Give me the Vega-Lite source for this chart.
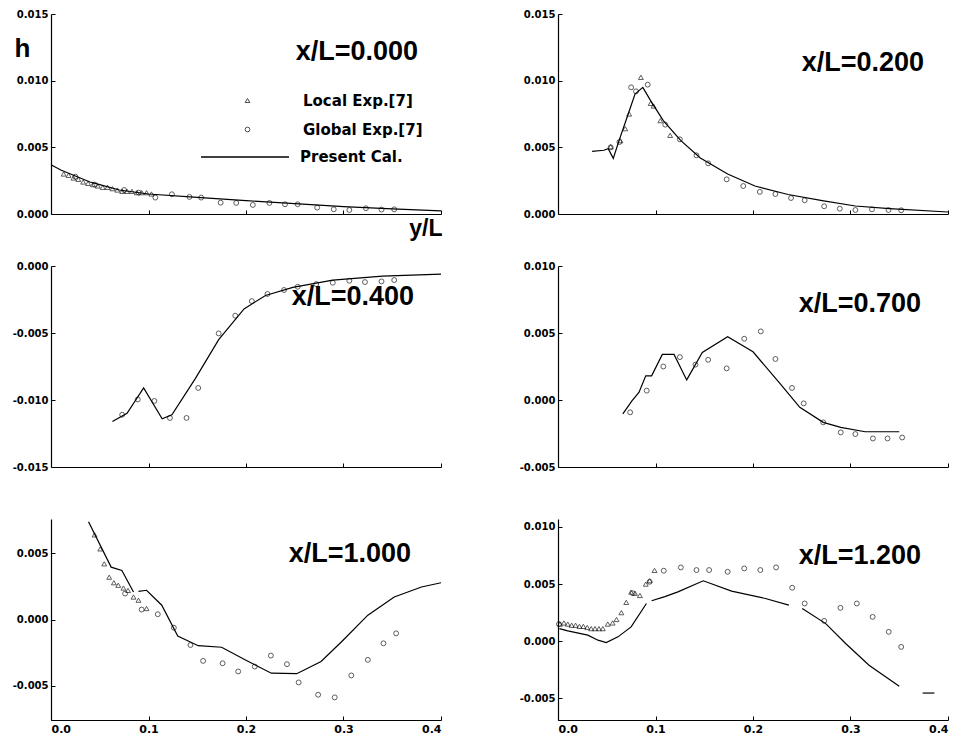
{
  "$schema": "https://vega.github.io/schema/vega-lite/v6.json",
  "padding": {"left": 12, "top": 9, "right": 5, "bottom": 5},
  "background": "white",
  "bounds": "flush",
  "columns": 2,
  "spacing": {"row": 52, "column": 117},
  "resolve": {"scale": {"shape": "independent", "stroke": "independent"}, "legend": {"shape": "independent", "stroke": "independent"}},
  "config": {
    "view": {"stroke": null},
    "axis": {"domainColor": "black", "domainWidth": 1.2, "tickColor": "black", "tickSize": -4, "tickWidth": 1, "labelPadding": 7, "labelFont": "DejaVu Sans", "labelFontWeight": "bold", "labelFontSize": 10, "labelColor": "black", "grid": false},
    "title": {"font": "Liberation Sans", "fontWeight": "bold", "fontSize": 27, "color": "black", "anchor": "end", "frame": "group", "orient": "top", "offset": 0, "baseline": "middle"}
  },
  "datasets": {
    "l0": [
      {"x": 0.0, "h": 0.0037}, {"x": 0.01, "h": 0.0033}, {"x": 0.02, "h": 0.0030}, {"x": 0.03, "h": 0.0027},
      {"x": 0.04, "h": 0.0024}, {"x": 0.05, "h": 0.0022}, {"x": 0.07, "h": 0.0018}, {"x": 0.1, "h": 0.0015},
      {"x": 0.15, "h": 0.00125}, {"x": 0.2, "h": 0.001}, {"x": 0.25, "h": 0.00078}, {"x": 0.3, "h": 0.00056},
      {"x": 0.35, "h": 0.00038}, {"x": 0.4, "h": 0.00024}
    ],
    "e0": [
      {"x": 0.013, "h": 0.0030, "s": "Local Exp.[7]"}, {"x": 0.018, "h": 0.0029, "s": "Local Exp.[7]"}, {"x": 0.023, "h": 0.0027, "s": "Local Exp.[7]"},
      {"x": 0.028, "h": 0.0026, "s": "Local Exp.[7]"}, {"x": 0.033, "h": 0.0024, "s": "Local Exp.[7]"}, {"x": 0.038, "h": 0.0023, "s": "Local Exp.[7]"},
      {"x": 0.043, "h": 0.0022, "s": "Local Exp.[7]"}, {"x": 0.048, "h": 0.0021, "s": "Local Exp.[7]"}, {"x": 0.053, "h": 0.0020, "s": "Local Exp.[7]"},
      {"x": 0.058, "h": 0.0020, "s": "Local Exp.[7]"}, {"x": 0.063, "h": 0.0019, "s": "Local Exp.[7]"}, {"x": 0.068, "h": 0.0018, "s": "Local Exp.[7]"},
      {"x": 0.073, "h": 0.0017, "s": "Local Exp.[7]"}, {"x": 0.078, "h": 0.0017, "s": "Local Exp.[7]"}, {"x": 0.083, "h": 0.0017, "s": "Local Exp.[7]"},
      {"x": 0.088, "h": 0.0016, "s": "Local Exp.[7]"}, {"x": 0.093, "h": 0.0016, "s": "Local Exp.[7]"}, {"x": 0.098, "h": 0.0016, "s": "Local Exp.[7]"},
      {"x": 0.103, "h": 0.0015, "s": "Local Exp.[7]"},
      {"x": 0.025, "h": 0.0028, "s": "Global Exp.[7]"}, {"x": 0.045, "h": 0.0022, "s": "Global Exp.[7]"}, {"x": 0.075, "h": 0.0018, "s": "Global Exp.[7]"},
      {"x": 0.09, "h": 0.0016, "s": "Global Exp.[7]"}, {"x": 0.107, "h": 0.00123, "s": "Global Exp.[7]"}, {"x": 0.124, "h": 0.00148, "s": "Global Exp.[7]"},
      {"x": 0.142, "h": 0.00128, "s": "Global Exp.[7]"}, {"x": 0.154, "h": 0.00123, "s": "Global Exp.[7]"}, {"x": 0.174, "h": 0.00085, "s": "Global Exp.[7]"},
      {"x": 0.19, "h": 0.00083, "s": "Global Exp.[7]"}, {"x": 0.207, "h": 0.00068, "s": "Global Exp.[7]"}, {"x": 0.224, "h": 0.00083, "s": "Global Exp.[7]"},
      {"x": 0.24, "h": 0.00073, "s": "Global Exp.[7]"}, {"x": 0.253, "h": 0.00073, "s": "Global Exp.[7]"}, {"x": 0.273, "h": 0.00048, "s": "Global Exp.[7]"},
      {"x": 0.29, "h": 0.00035, "s": "Global Exp.[7]"}, {"x": 0.306, "h": 0.0003, "s": "Global Exp.[7]"}, {"x": 0.323, "h": 0.00043, "s": "Global Exp.[7]"},
      {"x": 0.339, "h": 0.00033, "s": "Global Exp.[7]"}, {"x": 0.352, "h": 0.00035, "s": "Global Exp.[7]"}
    ],
    "l1": [
      {"x": 0.035, "h": 0.0047}, {"x": 0.047, "h": 0.00478}, {"x": 0.0515, "h": 0.0049}, {"x": 0.0567, "h": 0.00417},
      {"x": 0.0625, "h": 0.00548}, {"x": 0.072, "h": 0.0075}, {"x": 0.079, "h": 0.009}, {"x": 0.087, "h": 0.0095},
      {"x": 0.095, "h": 0.0085}, {"x": 0.108, "h": 0.007}, {"x": 0.126, "h": 0.0055}, {"x": 0.146, "h": 0.0042},
      {"x": 0.174, "h": 0.003}, {"x": 0.202, "h": 0.0021}, {"x": 0.236, "h": 0.00146}, {"x": 0.271, "h": 0.001},
      {"x": 0.305, "h": 0.0006}, {"x": 0.34, "h": 0.0004}, {"x": 0.4, "h": 0.00015}
    ],
    "e1": [
      {"x": 0.054, "h": 0.00505, "s": "Local Exp.[7]"}, {"x": 0.064, "h": 0.0055, "s": "Local Exp.[7]"}, {"x": 0.069, "h": 0.0064, "s": "Local Exp.[7]"},
      {"x": 0.073, "h": 0.0075, "s": "Local Exp.[7]"}, {"x": 0.085, "h": 0.01025, "s": "Local Exp.[7]"}, {"x": 0.095, "h": 0.0083, "s": "Local Exp.[7]"},
      {"x": 0.098, "h": 0.0081, "s": "Local Exp.[7]"}, {"x": 0.105, "h": 0.007, "s": "Local Exp.[7]"}, {"x": 0.115, "h": 0.0059, "s": "Local Exp.[7]"},
      {"x": 0.054, "h": 0.005, "s": "Global Exp.[7]"}, {"x": 0.063, "h": 0.0054, "s": "Global Exp.[7]"}, {"x": 0.075, "h": 0.0095, "s": "Global Exp.[7]"},
      {"x": 0.08, "h": 0.0092, "s": "Global Exp.[7]"}, {"x": 0.092, "h": 0.0097, "s": "Global Exp.[7]"}, {"x": 0.11, "h": 0.0067, "s": "Global Exp.[7]"},
      {"x": 0.125, "h": 0.0056, "s": "Global Exp.[7]"}, {"x": 0.142, "h": 0.0044, "s": "Global Exp.[7]"}, {"x": 0.154, "h": 0.0038, "s": "Global Exp.[7]"},
      {"x": 0.173, "h": 0.0026, "s": "Global Exp.[7]"}, {"x": 0.19, "h": 0.0021, "s": "Global Exp.[7]"}, {"x": 0.207, "h": 0.00166, "s": "Global Exp.[7]"},
      {"x": 0.223, "h": 0.0015, "s": "Global Exp.[7]"}, {"x": 0.239, "h": 0.0012, "s": "Global Exp.[7]"}, {"x": 0.253, "h": 0.00103, "s": "Global Exp.[7]"},
      {"x": 0.273, "h": 0.00058, "s": "Global Exp.[7]"}, {"x": 0.289, "h": 0.0004, "s": "Global Exp.[7]"}, {"x": 0.305, "h": 0.0003, "s": "Global Exp.[7]"},
      {"x": 0.322, "h": 0.00035, "s": "Global Exp.[7]"}, {"x": 0.339, "h": 0.0003, "s": "Global Exp.[7]"}, {"x": 0.352, "h": 0.00028, "s": "Global Exp.[7]"}
    ],
    "l2": [
      {"x": 0.063, "h": -0.0116}, {"x": 0.078, "h": -0.011}, {"x": 0.095, "h": -0.0091}, {"x": 0.114, "h": -0.0114},
      {"x": 0.124, "h": -0.0111}, {"x": 0.148, "h": -0.0084}, {"x": 0.172, "h": -0.0055}, {"x": 0.198, "h": -0.0032},
      {"x": 0.22, "h": -0.0022}, {"x": 0.248, "h": -0.0016}, {"x": 0.289, "h": -0.00105}, {"x": 0.34, "h": -0.00075},
      {"x": 0.4, "h": -0.0006}
    ],
    "e2": [
      {"x": 0.073, "h": -0.0111, "s": "Global Exp.[7]"}, {"x": 0.089, "h": -0.00996, "s": "Global Exp.[7]"}, {"x": 0.106, "h": -0.01007, "s": "Global Exp.[7]"},
      {"x": 0.122, "h": -0.01134, "s": "Global Exp.[7]"}, {"x": 0.139, "h": -0.01134, "s": "Global Exp.[7]"}, {"x": 0.151, "h": -0.0091, "s": "Global Exp.[7]"},
      {"x": 0.172, "h": -0.00503, "s": "Global Exp.[7]"}, {"x": 0.189, "h": -0.00371, "s": "Global Exp.[7]"}, {"x": 0.206, "h": -0.00262, "s": "Global Exp.[7]"},
      {"x": 0.222, "h": -0.00209, "s": "Global Exp.[7]"}, {"x": 0.239, "h": -0.00179, "s": "Global Exp.[7]"}, {"x": 0.253, "h": -0.00155, "s": "Global Exp.[7]"},
      {"x": 0.272, "h": -0.00135, "s": "Global Exp.[7]"}, {"x": 0.289, "h": -0.00125, "s": "Global Exp.[7]"}, {"x": 0.306, "h": -0.0011, "s": "Global Exp.[7]"},
      {"x": 0.322, "h": -0.0012, "s": "Global Exp.[7]"}, {"x": 0.339, "h": -0.00115, "s": "Global Exp.[7]"}, {"x": 0.352, "h": -0.00105, "s": "Global Exp.[7]"}
    ],
    "l3": [
      {"x": 0.0665, "h": -0.00104}, {"x": 0.076, "h": -0.00005}, {"x": 0.083, "h": 0.00057}, {"x": 0.09, "h": 0.0018},
      {"x": 0.096, "h": 0.0018}, {"x": 0.107, "h": 0.0034}, {"x": 0.119, "h": 0.0034}, {"x": 0.132, "h": 0.0015},
      {"x": 0.148, "h": 0.00355}, {"x": 0.174, "h": 0.00472}, {"x": 0.2, "h": 0.0036}, {"x": 0.228, "h": 0.0012},
      {"x": 0.248, "h": -0.00055}, {"x": 0.272, "h": -0.00167}, {"x": 0.29, "h": -0.00204}, {"x": 0.315, "h": -0.00237},
      {"x": 0.35, "h": -0.00237}
    ],
    "e3": [
      {"x": 0.074, "h": -0.00092, "s": "Global Exp.[7]"}, {"x": 0.091, "h": 0.0007, "s": "Global Exp.[7]"}, {"x": 0.108, "h": 0.0025, "s": "Global Exp.[7]"},
      {"x": 0.125, "h": 0.0032, "s": "Global Exp.[7]"}, {"x": 0.141, "h": 0.00264, "s": "Global Exp.[7]"}, {"x": 0.154, "h": 0.003, "s": "Global Exp.[7]"},
      {"x": 0.173, "h": 0.00236, "s": "Global Exp.[7]"}, {"x": 0.191, "h": 0.00457, "s": "Global Exp.[7]"}, {"x": 0.208, "h": 0.00512, "s": "Global Exp.[7]"},
      {"x": 0.223, "h": 0.00306, "s": "Global Exp.[7]"}, {"x": 0.24, "h": 0.0009, "s": "Global Exp.[7]"}, {"x": 0.252, "h": -0.00025, "s": "Global Exp.[7]"},
      {"x": 0.272, "h": -0.00167, "s": "Global Exp.[7]"}, {"x": 0.29, "h": -0.00242, "s": "Global Exp.[7]"}, {"x": 0.305, "h": -0.00254, "s": "Global Exp.[7]"},
      {"x": 0.323, "h": -0.00287, "s": "Global Exp.[7]"}, {"x": 0.338, "h": -0.00287, "s": "Global Exp.[7]"}, {"x": 0.353, "h": -0.0028, "s": "Global Exp.[7]"}
    ],
    "l4": [
      {"x": 0.0385, "h": 0.0074, "seg": "a"}, {"x": 0.0617, "h": 0.00396, "seg": "a"}, {"x": 0.0727, "h": 0.00371, "seg": "a"}, {"x": 0.0846, "h": 0.00208, "seg": "a"},
      {"x": 0.0897, "h": 0.00213, "seg": "b"}, {"x": 0.098, "h": 0.00221, "seg": "b"}, {"x": 0.1136, "h": 0.00108, "seg": "b"}, {"x": 0.13, "h": -0.00125, "seg": "b"},
      {"x": 0.151, "h": -0.00198, "seg": "b"}, {"x": 0.175, "h": -0.0021, "seg": "b"}, {"x": 0.199, "h": -0.00305, "seg": "b"}, {"x": 0.226, "h": -0.00406, "seg": "b"},
      {"x": 0.252, "h": -0.0041, "seg": "b"}, {"x": 0.277, "h": -0.00318, "seg": "b"}, {"x": 0.298, "h": -0.00168, "seg": "b"}, {"x": 0.325, "h": 0.00033, "seg": "b"},
      {"x": 0.352, "h": 0.0017, "seg": "b"}, {"x": 0.38, "h": 0.00246, "seg": "b"}, {"x": 0.4, "h": 0.00278, "seg": "b"}
    ],
    "e4": [
      {"x": 0.0447, "h": 0.0064, "s": "Local Exp.[7]"}, {"x": 0.0505, "h": 0.00534, "s": "Local Exp.[7]"}, {"x": 0.0546, "h": 0.00421, "s": "Local Exp.[7]"},
      {"x": 0.0597, "h": 0.0032, "s": "Local Exp.[7]"}, {"x": 0.0645, "h": 0.00278, "s": "Local Exp.[7]"}, {"x": 0.069, "h": 0.00259, "s": "Local Exp.[7]"},
      {"x": 0.0743, "h": 0.00238, "s": "Local Exp.[7]"}, {"x": 0.079, "h": 0.0022, "s": "Local Exp.[7]"}, {"x": 0.0846, "h": 0.0017, "s": "Local Exp.[7]"},
      {"x": 0.0897, "h": 0.00146, "s": "Local Exp.[7]"}, {"x": 0.098, "h": 0.00083, "s": "Local Exp.[7]"},
      {"x": 0.076, "h": 0.00196, "s": "Global Exp.[7]"}, {"x": 0.093, "h": 0.00075, "s": "Global Exp.[7]"}, {"x": 0.1095, "h": 0.0004, "s": "Global Exp.[7]"},
      {"x": 0.126, "h": -0.00062, "s": "Global Exp.[7]"}, {"x": 0.143, "h": -0.00193, "s": "Global Exp.[7]"}, {"x": 0.156, "h": -0.00313, "s": "Global Exp.[7]"},
      {"x": 0.176, "h": -0.00331, "s": "Global Exp.[7]"}, {"x": 0.192, "h": -0.00393, "s": "Global Exp.[7]"}, {"x": 0.209, "h": -0.00356, "s": "Global Exp.[7]"},
      {"x": 0.2255, "h": -0.00273, "s": "Global Exp.[7]"}, {"x": 0.242, "h": -0.00338, "s": "Global Exp.[7]"}, {"x": 0.254, "h": -0.00476, "s": "Global Exp.[7]"},
      {"x": 0.274, "h": -0.00569, "s": "Global Exp.[7]"}, {"x": 0.291, "h": -0.00589, "s": "Global Exp.[7]"}, {"x": 0.308, "h": -0.00423, "s": "Global Exp.[7]"},
      {"x": 0.325, "h": -0.00305, "s": "Global Exp.[7]"}, {"x": 0.341, "h": -0.0018, "s": "Global Exp.[7]"}, {"x": 0.354, "h": -0.00105, "s": "Global Exp.[7]"}
    ],
    "l5": [
      {"x": 0.0015, "h": 0.0011, "seg": "a"}, {"x": 0.01, "h": 0.0009, "seg": "a"}, {"x": 0.0306, "h": 0.00053, "seg": "a"}, {"x": 0.041, "h": 0.00009, "seg": "a"},
      {"x": 0.0495, "h": -0.00012, "seg": "a"}, {"x": 0.0615, "h": 0.00038, "seg": "a"}, {"x": 0.075, "h": 0.00125, "seg": "a"}, {"x": 0.0907, "h": 0.0033, "seg": "a"},
      {"x": 0.096, "h": 0.00354, "seg": "b"}, {"x": 0.1096, "h": 0.0039, "seg": "b"}, {"x": 0.123, "h": 0.00432, "seg": "b"}, {"x": 0.149, "h": 0.00529, "seg": "b"},
      {"x": 0.178, "h": 0.00439, "seg": "b"}, {"x": 0.2127, "h": 0.00374, "seg": "b"}, {"x": 0.2368, "h": 0.00316, "seg": "b"},
      {"x": 0.2505, "h": 0.00286, "seg": "c"}, {"x": 0.2746, "h": 0.00154, "seg": "c"}, {"x": 0.295, "h": -0.0002, "seg": "c"}, {"x": 0.319, "h": -0.0021, "seg": "c"},
      {"x": 0.35, "h": -0.00395, "seg": "c"},
      {"x": 0.374, "h": -0.00454, "seg": "d"}, {"x": 0.386, "h": -0.00454, "seg": "d"}
    ],
    "e5": [
      {"x": 0.002, "h": 0.0015, "s": "Local Exp.[7]"}, {"x": 0.006, "h": 0.0016, "s": "Local Exp.[7]"}, {"x": 0.01, "h": 0.0015, "s": "Local Exp.[7]"},
      {"x": 0.014, "h": 0.0014, "s": "Local Exp.[7]"}, {"x": 0.018, "h": 0.0014, "s": "Local Exp.[7]"}, {"x": 0.022, "h": 0.0013, "s": "Local Exp.[7]"},
      {"x": 0.026, "h": 0.0013, "s": "Local Exp.[7]"}, {"x": 0.03, "h": 0.0012, "s": "Local Exp.[7]"}, {"x": 0.034, "h": 0.0011, "s": "Local Exp.[7]"},
      {"x": 0.038, "h": 0.0011, "s": "Local Exp.[7]"}, {"x": 0.042, "h": 0.0011, "s": "Local Exp.[7]"}, {"x": 0.046, "h": 0.0011, "s": "Local Exp.[7]"},
      {"x": 0.051, "h": 0.0015, "s": "Local Exp.[7]"}, {"x": 0.056, "h": 0.0016, "s": "Local Exp.[7]"}, {"x": 0.06, "h": 0.0019, "s": "Local Exp.[7]"},
      {"x": 0.065, "h": 0.0025, "s": "Local Exp.[7]"}, {"x": 0.07, "h": 0.0034, "s": "Local Exp.[7]"}, {"x": 0.075, "h": 0.0043, "s": "Local Exp.[7]"},
      {"x": 0.079, "h": 0.0042, "s": "Local Exp.[7]"}, {"x": 0.084, "h": 0.004, "s": "Local Exp.[7]"}, {"x": 0.09, "h": 0.005, "s": "Local Exp.[7]"},
      {"x": 0.094, "h": 0.0053, "s": "Local Exp.[7]"}, {"x": 0.099, "h": 0.0062, "s": "Local Exp.[7]"},
      {"x": 0.001, "h": 0.0015, "s": "Global Exp.[7]"}, {"x": 0.0767, "h": 0.0042, "s": "Global Exp.[7]"}, {"x": 0.094, "h": 0.0052, "s": "Global Exp.[7]"},
      {"x": 0.1085, "h": 0.00617, "s": "Global Exp.[7]"}, {"x": 0.126, "h": 0.00646, "s": "Global Exp.[7]"}, {"x": 0.142, "h": 0.00623, "s": "Global Exp.[7]"},
      {"x": 0.155, "h": 0.00623, "s": "Global Exp.[7]"}, {"x": 0.174, "h": 0.00608, "s": "Global Exp.[7]"}, {"x": 0.191, "h": 0.00637, "s": "Global Exp.[7]"},
      {"x": 0.2075, "h": 0.00623, "s": "Global Exp.[7]"}, {"x": 0.2237, "h": 0.00646, "s": "Global Exp.[7]"}, {"x": 0.2402, "h": 0.00468, "s": "Global Exp.[7]"},
      {"x": 0.253, "h": 0.0033, "s": "Global Exp.[7]"}, {"x": 0.273, "h": 0.00178, "s": "Global Exp.[7]"}, {"x": 0.2897, "h": 0.00292, "s": "Global Exp.[7]"},
      {"x": 0.3065, "h": 0.0033, "s": "Global Exp.[7]"}, {"x": 0.3227, "h": 0.00213, "s": "Global Exp.[7]"}, {"x": 0.3392, "h": 0.00082, "s": "Global Exp.[7]"},
      {"x": 0.352, "h": -0.0005, "s": "Global Exp.[7]"}
    ]
  },
  "concat": [
    {
      "width": 390, "height": 200,
      "title": {"text": "x/L=0.000", "dx": -23, "dy": 61},
      "encoding": {
        "x": {"field": "x", "type": "quantitative", "scale": {"domain": [0, 0.4], "nice": false}, "axis": {"values": [0.1, 0.2, 0.3, 0.4], "labels": false, "title": "y/L", "titleFont": "Liberation Sans", "titleFontSize": 23, "titleFontWeight": "bold", "titleColor": "black", "titleX": 391, "titleY": 21, "titleAlign": "right", "titleBaseline": "alphabetic"}},
        "y": {"field": "h", "type": "quantitative", "scale": {"domain": [0, 0.015], "nice": false, "zero": false}, "axis": {"values": [0, 0.005, 0.01, 0.015], "labelExpr": "replace(format(datum.value, '.3f'), '\u2212', '-')", "title": "h", "titleAngle": 0, "titleFont": "Liberation Sans", "titleFontSize": 26, "titleFontWeight": "bold", "titleColor": "black", "titleX": -37, "titleY": 42, "titleAlign": "left", "titleBaseline": "alphabetic"}}
      },
      "layer": [
        {"data": {"name": "l0"}, "mark": {"type": "line", "color": "black", "strokeWidth": 1.2},
         "encoding": {"stroke": {"datum": "Present Cal.", "type": "nominal", "scale": {"range": ["black"]}, "legend": {"orient": "none", "legendX": 149, "legendY": 98, "title": null, "padding": 0, "symbolType": "stroke", "symbolSize": 7744, "symbolStrokeWidth": 1.3, "labelOffset": 10, "labelFont": "DejaVu Sans", "labelFontWeight": "bold", "labelFontSize": 15, "labelColor": "black"}}}},
        {"data": {"name": "e0"}, "mark": {"type": "point", "filled": false, "color": "black", "strokeWidth": 0.9, "size": 24},
         "encoding": {"shape": {"field": "s", "type": "nominal", "scale": {"domain": ["Local Exp.[7]", "Global Exp.[7]"], "range": ["triangle-up", "circle"]}, "legend": {"orient": "none", "legendX": 189, "legendY": 79, "title": null, "padding": 0, "symbolSize": 22, "symbolStrokeWidth": 1, "symbolStrokeColor": "black", "rowPadding": 13, "labelOffset": 48, "labelFont": "DejaVu Sans", "labelFontWeight": "bold", "labelFontSize": 15, "labelColor": "black"}}}}
      ]
    },
    {
      "width": 390, "height": 200,
      "title": {"text": "x/L=0.200", "dx": -24, "dy": 72},
      "encoding": {
        "x": {"field": "x", "type": "quantitative", "scale": {"domain": [0, 0.4], "nice": false}, "axis": {"values": [0.1, 0.2, 0.3, 0.4], "labels": false, "title": null}},
        "y": {"field": "h", "type": "quantitative", "scale": {"domain": [0, 0.015], "nice": false, "zero": false}, "axis": {"values": [0, 0.005, 0.01, 0.015], "labelExpr": "replace(format(datum.value, '.3f'), '\u2212', '-')", "title": null}}
      },
      "layer": [
        {"data": {"name": "l1"}, "mark": {"type": "line", "color": "black", "strokeWidth": 1.2}, "encoding": {}},
        {"data": {"name": "e1"}, "mark": {"type": "point", "filled": false, "color": "black", "strokeWidth": 0.9, "size": 24},
         "encoding": {"shape": {"field": "s", "type": "nominal", "scale": {"domain": ["Local Exp.[7]", "Global Exp.[7]"], "range": ["triangle-up", "circle"]}, "legend": null}}}
      ]
    },
    {
      "width": 390, "height": 201,
      "title": {"text": "x/L=0.400", "dx": -27, "dy": 54},
      "encoding": {
        "x": {"field": "x", "type": "quantitative", "scale": {"domain": [0, 0.4], "nice": false}, "axis": {"values": [0.1, 0.2, 0.3, 0.4], "labels": false, "title": null}},
        "y": {"field": "h", "type": "quantitative", "scale": {"domain": [-0.015, 0], "nice": false, "zero": false}, "axis": {"values": [-0.015, -0.01, -0.005, 0], "labelExpr": "replace(format(datum.value, '.3f'), '\u2212', '-')", "title": null}}
      },
      "layer": [
        {"data": {"name": "l2"}, "mark": {"type": "line", "color": "black", "strokeWidth": 1.2}, "encoding": {}},
        {"data": {"name": "e2"}, "mark": {"type": "point", "filled": false, "color": "black", "strokeWidth": 0.9, "size": 24},
         "encoding": {"shape": {"field": "s", "type": "nominal", "scale": {"domain": ["Local Exp.[7]", "Global Exp.[7]"], "range": ["triangle-up", "circle"]}, "legend": null}}}
      ]
    },
    {
      "width": 390, "height": 201,
      "title": {"text": "x/L=0.700", "dx": -27, "dy": 61},
      "encoding": {
        "x": {"field": "x", "type": "quantitative", "scale": {"domain": [0, 0.4], "nice": false}, "axis": {"values": [0.1, 0.2, 0.3, 0.4], "labels": false, "title": null}},
        "y": {"field": "h", "type": "quantitative", "scale": {"domain": [-0.005, 0.01], "nice": false, "zero": false}, "axis": {"values": [-0.005, 0, 0.005, 0.01], "labelExpr": "replace(format(datum.value, '.3f'), '\u2212', '-')", "title": null}}
      },
      "layer": [
        {"data": {"name": "l3"}, "mark": {"type": "line", "color": "black", "strokeWidth": 1.2}, "encoding": {}},
        {"data": {"name": "e3"}, "mark": {"type": "point", "filled": false, "color": "black", "strokeWidth": 0.9, "size": 24},
         "encoding": {"shape": {"field": "s", "type": "nominal", "scale": {"domain": ["Local Exp.[7]", "Global Exp.[7]"], "range": ["triangle-up", "circle"]}, "legend": null}}}
      ]
    },
    {
      "width": 390, "height": 201,
      "title": {"text": "x/L=1.000", "dx": -30, "dy": 53},
      "encoding": {
        "x": {"field": "x", "type": "quantitative", "scale": {"domain": [0, 0.4], "nice": false}, "axis": {"values": [0, 0.1, 0.2, 0.3, 0.4], "format": ".1f", "labelFontSize": 11, "title": null}},
        "y": {"field": "h", "type": "quantitative", "scale": {"domain": [-0.0076, 0.0076], "nice": false, "zero": false}, "axis": {"values": [-0.005, 0, 0.005], "labelExpr": "replace(format(datum.value, '.3f'), '\u2212', '-')", "title": null}}
      },
      "layer": [
        {"data": {"name": "l4"}, "mark": {"type": "line", "color": "black", "strokeWidth": 1.2}, "encoding": {"detail": {"field": "seg"}}},
        {"data": {"name": "e4"}, "mark": {"type": "point", "filled": false, "color": "black", "strokeWidth": 0.9, "size": 24},
         "encoding": {"shape": {"field": "s", "type": "nominal", "scale": {"domain": ["Local Exp.[7]", "Global Exp.[7]"], "range": ["triangle-up", "circle"]}, "legend": null}}}
      ]
    },
    {
      "width": 390, "height": 201,
      "title": {"text": "x/L=1.200", "dx": -27, "dy": 55},
      "encoding": {
        "x": {"field": "x", "type": "quantitative", "scale": {"domain": [0, 0.4], "nice": false}, "axis": {"values": [0, 0.1, 0.2, 0.3, 0.4], "format": ".1f", "labelFontSize": 11, "title": null}},
        "y": {"field": "h", "type": "quantitative", "scale": {"domain": [-0.0069, 0.0107], "nice": false, "zero": false}, "axis": {"values": [-0.005, 0, 0.005, 0.01], "labelExpr": "replace(format(datum.value, '.3f'), '\u2212', '-')", "title": null}}
      },
      "layer": [
        {"data": {"name": "l5"}, "mark": {"type": "line", "color": "black", "strokeWidth": 1.2}, "encoding": {"detail": {"field": "seg"}}},
        {"data": {"name": "e5"}, "mark": {"type": "point", "filled": false, "color": "black", "strokeWidth": 0.9, "size": 24},
         "encoding": {"shape": {"field": "s", "type": "nominal", "scale": {"domain": ["Local Exp.[7]", "Global Exp.[7]"], "range": ["triangle-up", "circle"]}, "legend": null}}}
      ]
    }
  ]
}
